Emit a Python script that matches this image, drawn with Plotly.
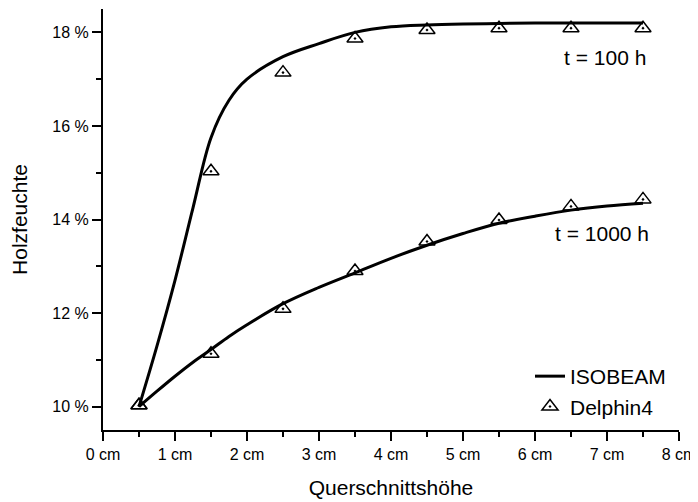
import plotly.graph_objects as go

# ---- data ----
x_iso = [0.5, 0.75, 1.0, 1.25, 1.5, 1.75, 2.0, 2.5, 3.0, 3.5, 4.0, 4.5, 5.0, 5.5, 6.0, 6.5, 7.0, 7.5]
iso_100h = [10.0, 11.3, 12.7, 14.25, 15.75, 16.55, 17.0, 17.48, 17.76, 18.0, 18.12, 18.16, 18.18, 18.19, 18.2, 18.2, 18.2, 18.2]
iso_1000h = [10.0, 10.33, 10.65, 10.95, 11.22, 11.5, 11.75, 12.2, 12.55, 12.86, 13.17, 13.45, 13.7, 13.92, 14.07, 14.2, 14.29, 14.35]

x_delphin = [0.5, 1.5, 2.5, 3.5, 4.5, 5.5, 6.5, 7.5]
delphin_100h = [10.03, 15.03, 17.14, 17.87, 18.05, 18.09, 18.09, 18.09]
delphin_1000h = [10.03, 11.13, 12.09, 12.9, 13.53, 13.99, 14.28, 14.43]

x_ticks = [0, 1, 2, 3, 4, 5, 6, 7, 8]
y_ticks = [10, 12, 14, 16, 18]

FONT = "Arial, Liberation Sans, sans-serif"
BLACK = "#000000"

fig = go.Figure()

fig.add_trace(go.Scatter(x=x_iso, y=iso_100h, mode="lines", name="ISOBEAM",
                         line=dict(color=BLACK, width=3, shape="spline", smoothing=1.0),
                         showlegend=True))
fig.add_trace(go.Scatter(x=x_iso, y=iso_1000h, mode="lines", name="ISOBEAM",
                         line=dict(color=BLACK, width=3, shape="spline", smoothing=1.0),
                         showlegend=False))
marker = dict(symbol="triangle-up-open-dot", size=14, color=BLACK, line=dict(color=BLACK, width=1.5))
fig.add_trace(go.Scatter(x=x_delphin, y=delphin_100h, mode="markers", name="Delphin4",
                         marker=marker, showlegend=True))
fig.add_trace(go.Scatter(x=x_delphin, y=delphin_1000h, mode="markers", name="Delphin4",
                         marker=marker, showlegend=False))

fig.add_annotation(x=7.57, y=17.46, xref="x", yref="y", text="t = 100 h", showarrow=False,
                   xanchor="right", yanchor="middle", font=dict(size=21, color=BLACK, family=FONT))
fig.add_annotation(x=7.61, y=13.71, xref="x", yref="y", text="t = 1000 h", showarrow=False,
                   xanchor="right", yanchor="middle", font=dict(size=21, color=BLACK, family=FONT))

# page body has an 8px default margin, so the figure is 8px smaller and offset
fig.update_layout(
    width=690, height=494,
    margin=dict(l=95, r=19, t=1, b=72, autoexpand=False),
    paper_bgcolor="white", plot_bgcolor="white",
    font=dict(family=FONT, color=BLACK),
    legend=dict(x=(530 - 103) / 576, y=(430 - 356) / 421, xanchor="left", yanchor="top",
                bgcolor="rgba(0,0,0,0)", font=dict(size=21, color=BLACK, family=FONT),
                tracegroupgap=0, itemwidth=30),
    xaxis=dict(range=[0, 8], tickvals=x_ticks, ticktext=[f"{v} cm" for v in x_ticks],
               showgrid=False, zeroline=False, showline=True, linecolor=BLACK, linewidth=2,
               ticks="outside", ticklen=9, tickwidth=2, tickcolor=BLACK, automargin=False,
               ticklabeloverflow="allow",
               tickfont=dict(size=16, family=FONT, color=BLACK),
               minor=dict(dtick=0.5, ticks="outside", ticklen=5, tickwidth=2, tickcolor=BLACK, showgrid=False),
               title=dict(text="Querschnittshöhe", font=dict(size=21, family=FONT, color=BLACK), standoff=18)),
    yaxis=dict(range=[9.5, 18.5], tickvals=y_ticks, ticktext=[f"{v} %" for v in y_ticks],
               showgrid=False, zeroline=False, showline=True, linecolor=BLACK, linewidth=2,
               ticks="outside", ticklen=9, tickwidth=2, tickcolor=BLACK, automargin=False,
               ticklabeloverflow="allow",
               tickfont=dict(size=16, family=FONT, color=BLACK),
               minor=dict(dtick=1, ticks="outside", ticklen=5, tickwidth=2, tickcolor=BLACK, showgrid=False),
               title=dict(text="Holzfeuchte", font=dict(size=21, family=FONT, color=BLACK), standoff=19)),
)

fig.write_html("out.html")
